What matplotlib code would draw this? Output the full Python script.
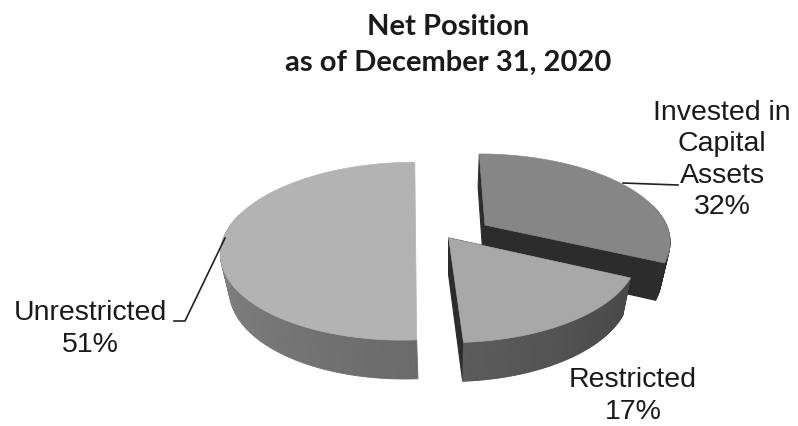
import numpy as np
import matplotlib
matplotlib.use("Agg")
import matplotlib.pyplot as plt
from matplotlib.patches import Polygon

categories = ["Invested in\nCapital\nAssets", "Restricted", "Unrestricted"]
percents = [32, 17, 51]

# shades per slice: top face, cut face, rim at its lighter and darker end
top_colors = ["#868686", "#a8a8a8", "#b3b3b3"]
cut_colors = ["#2c2c2c", "#2c2c2c", "#555555"]
rim_colors = [("#3a3a3a", "#2c2c2c"), ("#484848", "#5a5a5a"), ("#6a6a6a", "#9c9c9c")]

# where each slice has been pulled out to, in disc units
offsets = [(0.22, 0.083), (0.02, -0.07), (-0.19, -0.05)]
draw_order = [2, 0, 1]

CX, CY = 445, 232
RX, RY = 184, 85
PERSP, PERSP_Z = 0.166, 0.04
THICK = 38


def project(x, y, z=0.0):
    # simple perspective, far side of the disc comes out smaller
    w = 1 + PERSP * y + PERSP_Z * z
    return np.column_stack([CX + RX * x / w, CY + (-RY * y + THICK * z) / w])


def draw_slice(ax, start, end, off, top, cut, rim):
    theta = np.radians(np.linspace(start, end, 160))
    x = off[0] + np.sin(theta)
    y = off[1] + np.cos(theta)

    # a slice wider than half the disc is closed with a straight cut
    has_apex = end - start < 180

    # the two cut faces
    if has_apex:
        for i in [0, -1]:
            edge_x = np.array([off[0], x[i], x[i], off[0]])
            edge_y = np.array([off[1], y[i], y[i], off[1]])
            edge_z = np.array([0, 0, 1, 1])
            ax.add_patch(Polygon(project(edge_x, edge_y, edge_z), closed=True,
                                 facecolor=cut, edgecolor=cut, lw=0.8))

    # rim, one short quad at a time so the shade can change along it
    c0 = np.array(matplotlib.colors.to_rgb(rim[0]))
    c1 = np.array(matplotlib.colors.to_rgb(rim[1]))
    for i in range(len(theta) - 1):
        if np.cos(theta[i]) > 0.25:
            continue
        t = i / (len(theta) - 2)
        quad_x = np.array([x[i], x[i + 1], x[i + 1], x[i]])
        quad_y = np.array([y[i], y[i + 1], y[i + 1], y[i]])
        quad_z = np.array([0, 0, 1, 1])
        shade = c0 + (c1 - c0) * t
        ax.add_patch(Polygon(project(quad_x, quad_y, quad_z), closed=True,
                             facecolor=shade, edgecolor=shade, lw=0.6))

    if has_apex:
        x = np.concatenate([[off[0]], x])
        y = np.concatenate([[off[1]], y])
    ax.add_patch(Polygon(project(x, y), closed=True, facecolor=top, edgecolor=top, lw=0.5))


fig = plt.figure(figsize=(7.98, 4.26), dpi=100)
ax = fig.add_axes([0, 0, 1, 1])
ax.set_xlim(0, 798)
ax.set_ylim(426, 0)
ax.axis("off")

edges = np.concatenate([[0], np.cumsum(percents)]) * 3.6
for idx in draw_order:
    draw_slice(ax, edges[idx], edges[idx + 1], offsets[idx], top_colors[idx],
               cut_colors[idx], rim_colors[idx])

# leader lines
ax.plot([623, 650, 678], [183, 184, 185], color="#222222", lw=1.2)
ax.plot([225, 185, 174], [238, 321, 321], color="#222222", lw=1.2)

title_font = dict(family="Lato", fontweight="bold", fontsize=21, color="#1a1a1a",
                  ha="center", va="center")
ax.text(448, 27, "Net Position", **title_font)
ax.text(448, 63, "as of December 31, 2020", **title_font)

label_font = dict(family="Liberation Sans", fontsize=20.5, color="#1a1a1a",
                  ha="center", va="center", linespacing=1.27)
ax.text(722, 160, f"{categories[0]}\n{percents[0]}%", **label_font)
ax.text(633, 396, f"{categories[1]}\n{percents[1]}%", **label_font)
ax.text(90, 329, f"{categories[2]}\n{percents[2]}%", **label_font)

fig.savefig("out.png", dpi=100, facecolor="white")
